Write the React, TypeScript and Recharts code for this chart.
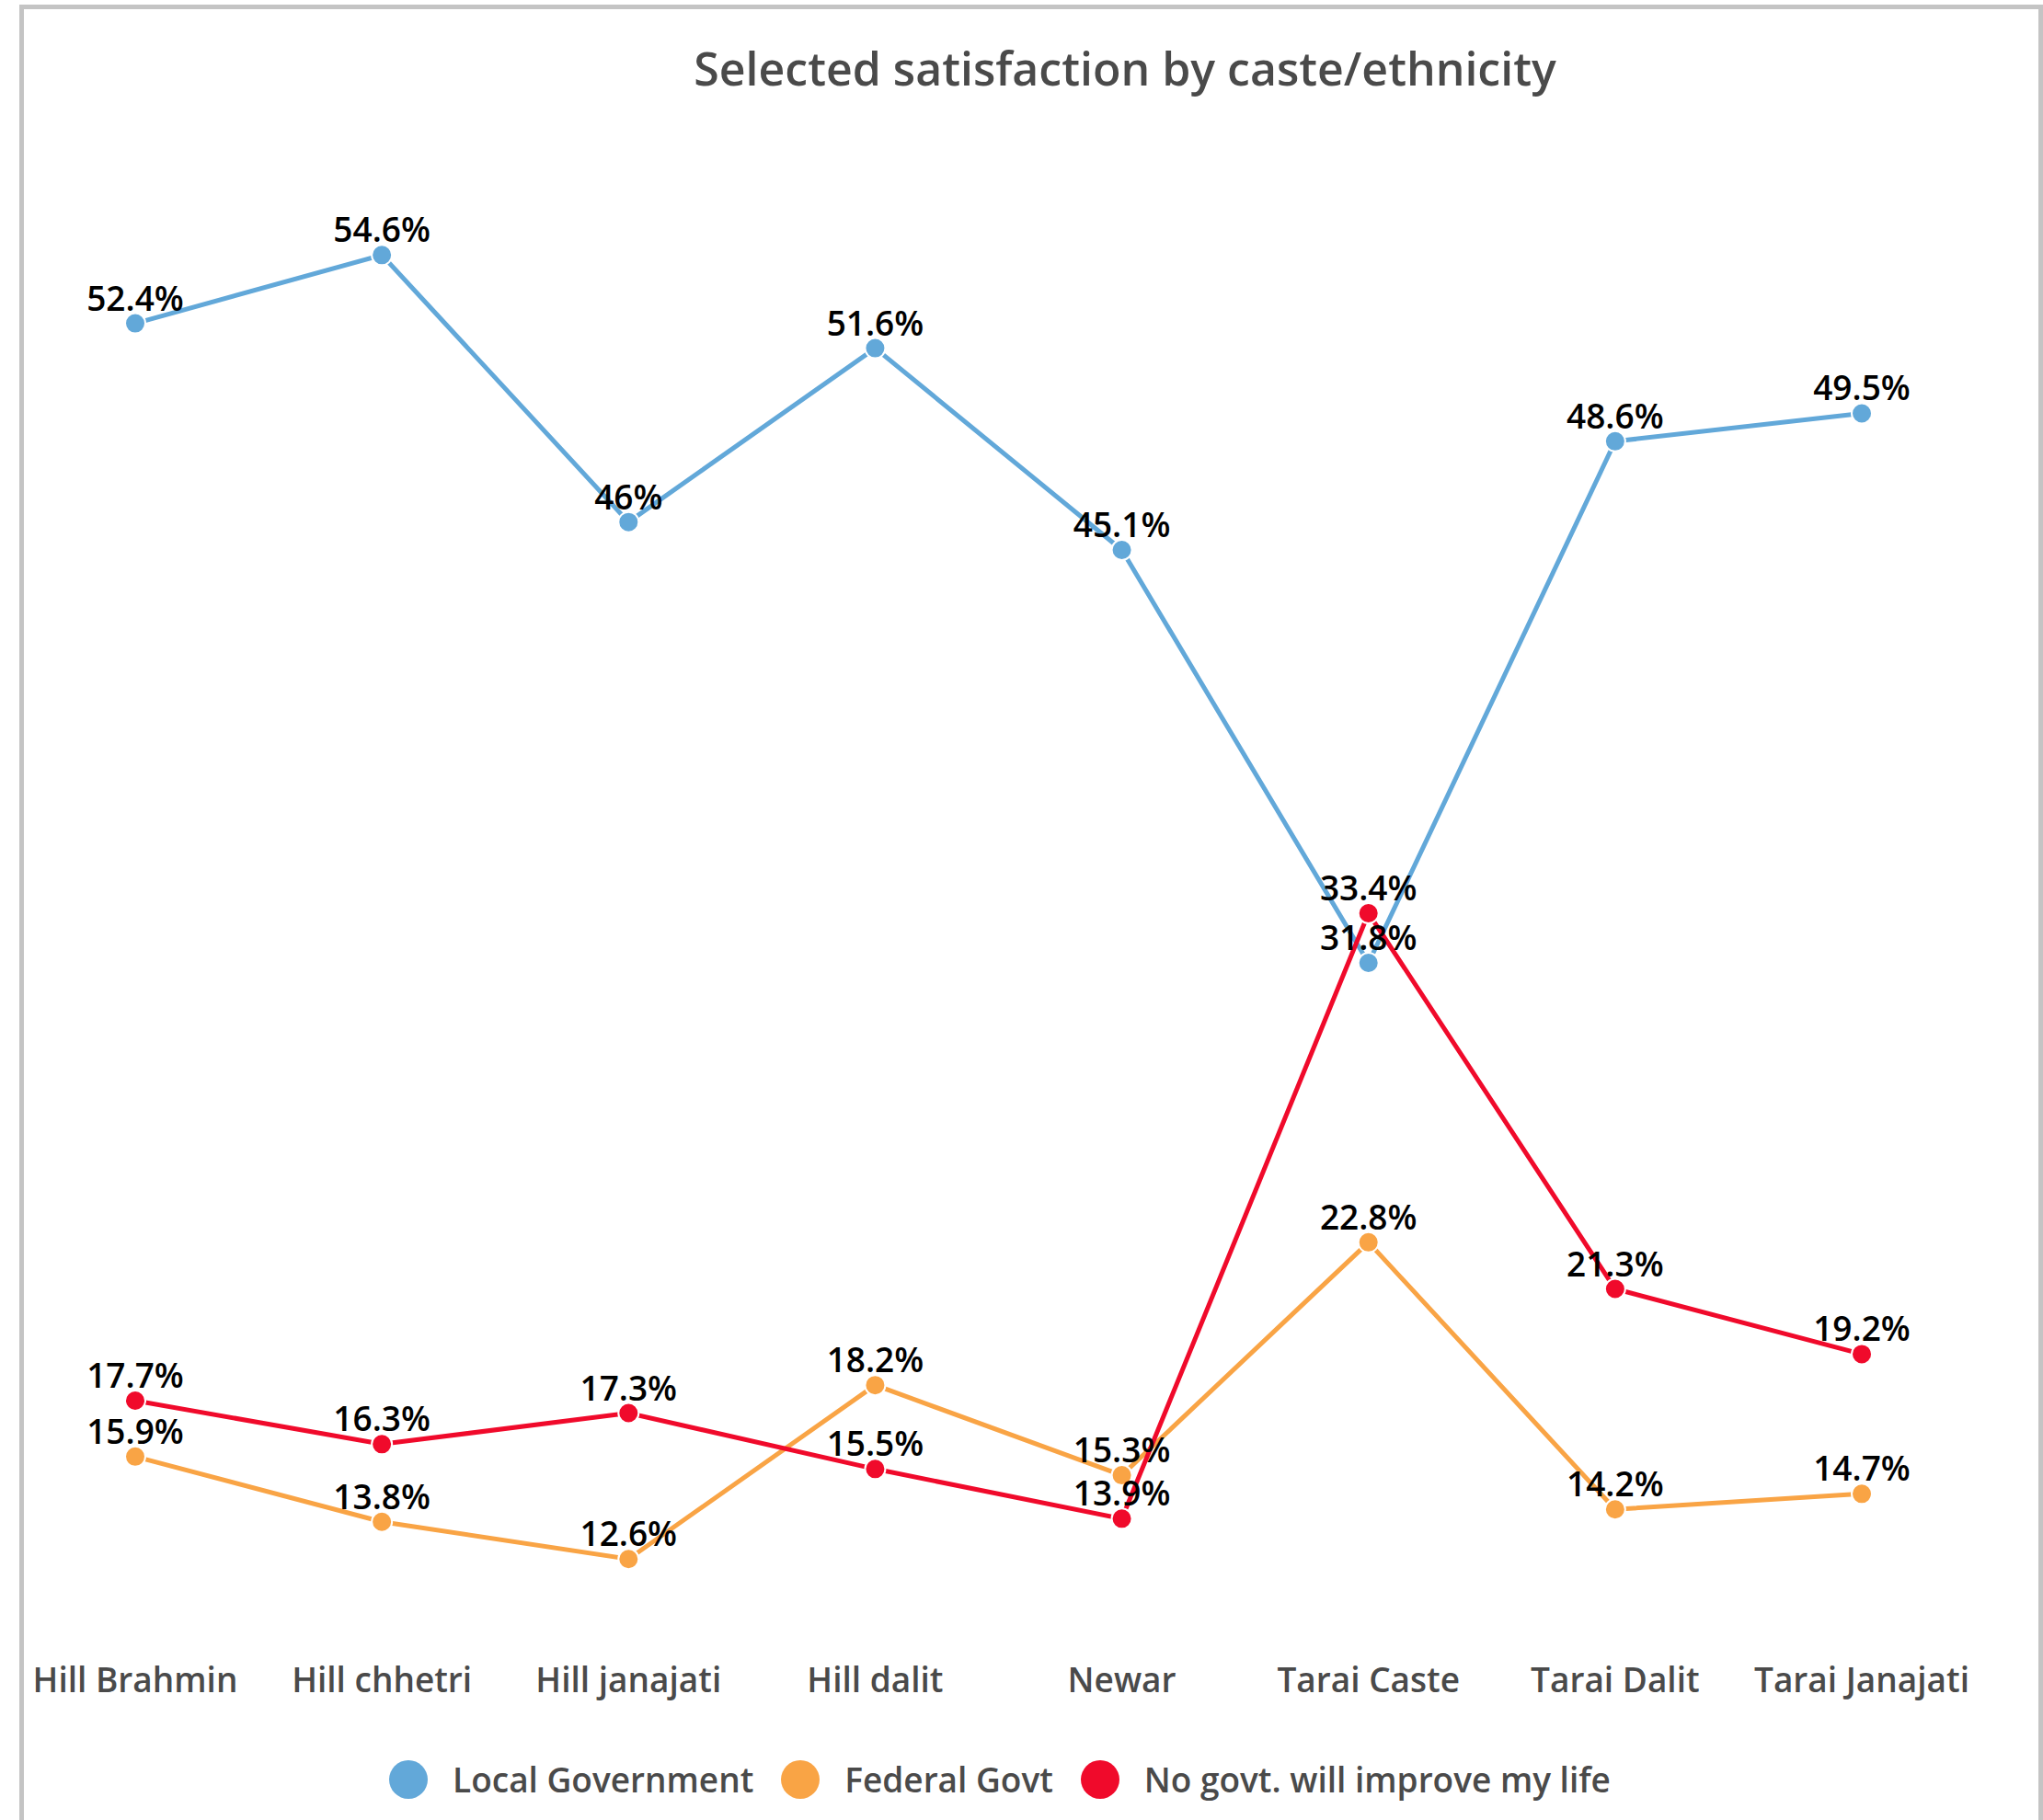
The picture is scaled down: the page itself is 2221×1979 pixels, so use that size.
import React from "react";
import { LineChart, Line, XAxis, YAxis, LabelList, Legend } from "recharts";

const categories = ["Hill Brahmin", "Hill chhetri", "Hill janajati", "Hill dalit", "Newar", "Tarai Caste", "Tarai Dalit", "Tarai Janajati"];
const localGov = [52.4, 54.6, 46, 51.6, 45.1, 31.8, 48.6, 49.5];
const federalGov = [15.9, 13.8, 12.6, 18.2, 15.3, 22.8, 14.2, 14.7];
const noGov = [17.7, 16.3, 17.3, 15.5, 13.9, 33.4, 21.3, 19.2];

const seriesNames = ["Local Government", "Federal Govt", "No govt. will improve my life"];
const colors = ["#62a8d9", "#f9a445", "#f00a2b"];

const data = categories.map((c, i) => ({
  name: c,
  local: localGov[i],
  federal: federalGov[i],
  none: noGov[i],
}));

const FONT = "'Open Sans', 'Noto Sans', sans-serif";

const ValueLabel = (props: any) => {
  const { x, y, value } = props;
  return (
    <text x={x} y={y - 14} textAnchor="middle" fontFamily={FONT} fontSize={37} fontWeight={600} fill="#000">
      {value}%
    </text>
  );
};

const Tick = (props: any) => {
  const { x, y, payload } = props;
  return (
    <text x={x} y={y + 49} textAnchor="middle" fontFamily={FONT} fontSize={37} fontWeight={600} fill="#4a4a4a">
      {payload.value}
    </text>
  );
};

const LegendContent = () => (
  <div style={{ display: "flex", justifyContent: "center", alignItems: "center", fontFamily: FONT }}>
    {seriesNames.map((n, i) => (
      <div key={n} style={{ display: "flex", alignItems: "center", marginRight: i < 2 ? 30 : 0 }}>
        <span style={{ width: 42, height: 42, borderRadius: 21, background: colors[i], display: "inline-block", marginRight: 27 }} />
        <span style={{ fontSize: 37, fontWeight: 600, color: "#4a4a4a" }}>{n}</span>
      </div>
    ))}
  </div>
);

export default function App() {
  const keys = ["local", "federal", "none"];
  return (
    <div style={{ position: "absolute", left: 0, top: 0, width: 2221, height: 1979, overflow: "hidden", background: "#fff" }}>
      <div
        style={{
          position: "absolute",
          left: 21,
          top: 5,
          width: 2200,
          height: 2100,
          border: "5px solid #c4c4c4",
          boxSizing: "border-box",
        }}
      />
      <div style={{ position: "absolute", left: 0, top: 0 }}>
        <LineChart width={2221} height={1979} data={data} margin={{ top: 95, right: 197, bottom: 85, left: 147 }}>
          <text x={1223} y={93} textAnchor="middle" fontFamily={FONT} fontSize={50} fontWeight={600} fill="#4a4a4a">
            Selected satisfaction by caste/ethnicity
          </text>
          <XAxis dataKey="name" axisLine={false} tickLine={false} height={60} tick={<Tick />} interval={0} padding={{ left: 0, right: 0 }} />
          <YAxis hide domain={[10, 60]} />
          <Legend
            content={<LegendContent />}
            wrapperStyle={{ position: "absolute", left: 0, top: 1909, width: 2174, bottom: "auto" }}
          />
          {keys.map((k, i) => (
            <Line
              key={k}
              dataKey={k}
              name={seriesNames[i]}
              stroke={colors[i]}
              strokeWidth={5}
              dot={{ r: 11, fill: colors[i], stroke: "#fff", strokeWidth: 2 }}
              activeDot={false}
              isAnimationActive={false}
            >
              <LabelList dataKey={k} content={<ValueLabel />} />
            </Line>
          ))}
        </LineChart>
      </div>
    </div>
  );
}
